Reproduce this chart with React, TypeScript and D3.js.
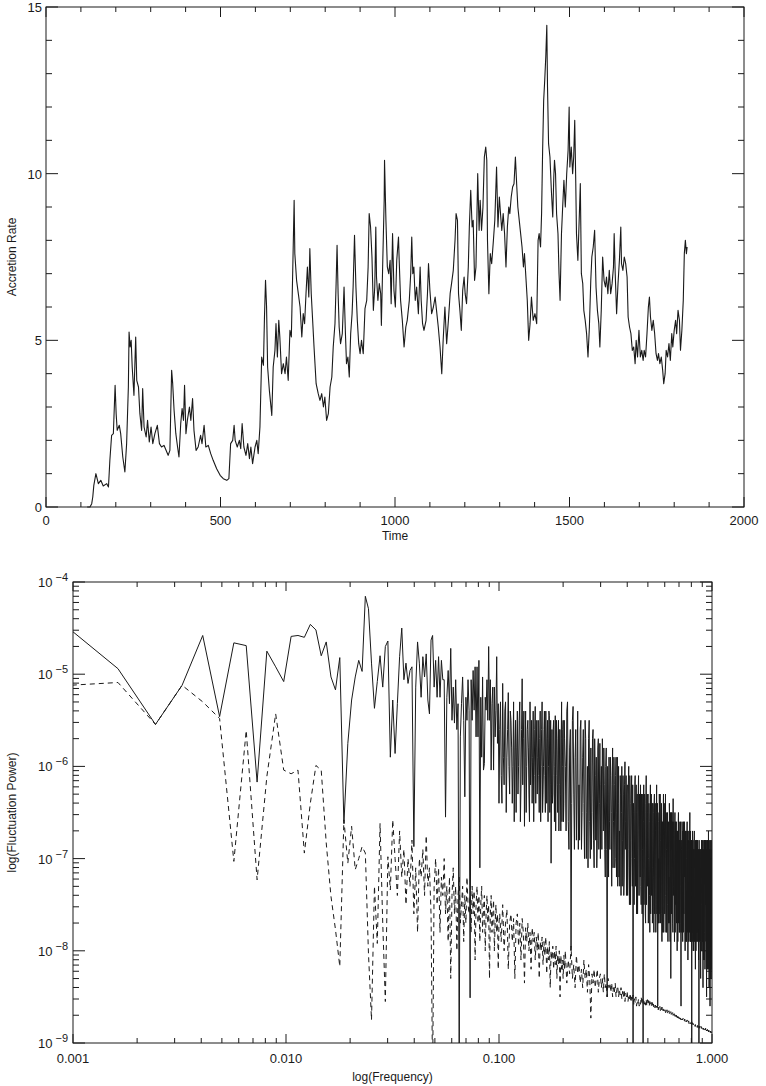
import * as d3 from 'd3';

// Top panel: accretion rate against time
const time = [
  118, 126, 131, 134, 137, 143, 150, 157, 164, 174, 179, 183, 188, 193, 198, 201, 204, 210, 214, 220,
  226, 231, 236, 238, 241, 244, 247, 252, 257, 260, 265, 269, 274, 277, 281, 287, 291, 296, 301, 306,
  312, 319, 325, 331, 338, 344, 350, 355, 360, 363, 367, 372, 377, 381, 386, 390, 394, 397, 401, 405,
  411, 415, 420, 424, 430, 436, 443, 447, 453, 458, 465, 472, 479, 489, 499, 508, 518, 524, 529, 535,
  539, 542, 548, 554, 558, 562, 567, 573, 578, 583, 587, 592, 599, 604, 608, 613, 618, 623, 626, 629,
  632, 635, 640, 647, 651, 656, 659, 663, 667, 670, 675, 680, 685, 689, 694, 699, 703, 707, 711, 713,
  718, 723, 728, 733, 737, 741, 745, 749, 753, 756, 760, 764, 768, 774, 780, 785, 790, 795, 799, 804,
  809, 814, 819, 823, 828, 831, 834, 837, 840, 844, 849, 854, 858, 861, 865, 869, 873, 877, 880, 884,
  888, 892, 896, 900, 904, 909, 914, 919, 923, 926, 930, 934, 938, 942, 945, 947, 951, 955, 959, 961,
  965, 969, 970, 974, 978, 982, 986, 989, 993, 997, 1001, 1005, 1010, 1012, 1016, 1021, 1026, 1031, 1035, 1041,
  1045, 1048, 1051, 1054, 1058, 1062, 1067, 1072, 1075, 1079, 1083, 1089, 1093, 1096, 1100, 1105, 1110, 1115, 1119, 1124,
  1129, 1134, 1138, 1143, 1148, 1153, 1158, 1162, 1167, 1172, 1175, 1179, 1182, 1186, 1190, 1194, 1198, 1201, 1205, 1210,
  1213, 1217, 1221, 1224, 1228, 1232, 1237, 1241, 1244, 1248, 1252, 1256, 1260, 1263, 1265, 1269, 1273, 1277, 1282, 1286,
  1291, 1295, 1299, 1303, 1306, 1310, 1314, 1318, 1322, 1326, 1329, 1333, 1337, 1341, 1345, 1349, 1352, 1356, 1360, 1364,
  1368, 1371, 1375, 1379, 1383, 1387, 1391, 1396, 1401, 1406, 1410, 1413, 1417, 1420, 1423, 1426, 1429, 1432, 1435, 1437,
  1440, 1444, 1448, 1452, 1455, 1457, 1460, 1463, 1467, 1470, 1473, 1477, 1480, 1484, 1488, 1492, 1496, 1499, 1501, 1505,
  1509, 1512, 1515, 1518, 1520, 1524, 1528, 1531, 1534, 1538, 1541, 1545, 1549, 1553, 1557, 1561, 1564, 1568, 1572, 1576,
  1580, 1584, 1587, 1591, 1595, 1599, 1603, 1606, 1610, 1614, 1618, 1622, 1626, 1628, 1631, 1635, 1639, 1643, 1647, 1649,
  1653, 1657, 1661, 1665, 1668, 1672, 1676, 1680, 1684, 1688, 1691, 1695, 1699, 1703, 1707, 1711, 1714, 1718, 1722, 1726,
  1729, 1732, 1736, 1740, 1744, 1748, 1752, 1755, 1759, 1763, 1767, 1770, 1774, 1777, 1781, 1785, 1789, 1793, 1796, 1800,
  1804, 1807, 1811, 1815, 1818, 1822, 1826, 1829, 1832, 1835, 1837,
];
const rate = [
  0, 0, 0.1, 0.3, 0.65, 1.0, 0.7, 0.8, 0.63, 0.7, 0.6, 1.4, 2.15, 2.2, 3.65, 2.8, 2.3, 2.45, 2.2, 1.5,
  1.05, 1.9, 3.6, 5.25, 4.8, 5.0, 4.2, 3.35, 5.1, 3.8, 3.6, 2.8, 2.3, 3.55, 2.4, 2.1, 2.6, 1.95, 2.4, 1.9,
  2.2, 2.45, 1.9, 1.8, 1.85, 1.7, 1.55, 1.7, 4.1, 3.7, 2.9, 2.2, 1.8, 1.5, 2.5, 2.95, 2.6, 3.65, 2.2, 2.6,
  3.0, 2.6, 3.25, 2.3, 1.7, 1.8, 2.15, 1.9, 2.45, 1.8, 1.85, 1.6, 1.4, 1.15, 0.95, 0.85, 0.8, 0.85, 1.9, 2.0,
  2.45, 2.0, 1.8, 2.0, 1.75, 2.5, 1.8, 1.55, 1.9, 1.45, 1.8, 1.3, 1.8, 2.0, 1.6, 2.4, 4.5, 4.25, 5.7, 6.8,
  6.0, 4.2, 3.5, 2.75, 4.2, 4.7, 5.5, 4.5, 5.6, 5.1, 4.0, 4.3, 4.0, 4.5, 3.8, 5.3, 5.1, 7.1, 9.2, 7.6,
  6.8, 6.4, 6.0, 5.1, 5.8, 5.5, 6.4, 7.2, 6.3, 7.75, 6.4, 5.6, 4.8, 3.7, 3.4, 3.2, 3.4, 3.0, 3.3, 2.6,
  2.8, 3.6, 3.9, 4.8, 5.5, 6.6, 7.85, 6.4, 5.4, 4.9, 5.2, 6.6, 5.2, 4.3, 4.5, 3.9, 5.2, 5.8, 6.6, 8.15,
  6.6, 5.6, 4.9, 4.6, 5.0, 4.6, 5.95, 6.2, 7.2, 8.8, 8.4, 7.5, 5.9, 6.6, 8.4, 6.9, 6.2, 6.7, 6.4, 5.45,
  7.4, 9.2, 10.4, 8.6, 7.2, 7.0, 7.4, 6.1, 8.2, 6.5, 6.0, 7.4, 8.1, 7.4, 6.2, 5.6, 4.8, 5.4, 5.6, 6.2,
  7.0, 8.1, 7.0, 7.2, 6.2, 6.6, 5.8, 7.2, 6.2, 5.5, 5.3, 5.6, 6.4, 7.3, 6.5, 5.8, 6.0, 6.3, 5.9, 5.4,
  4.8, 4.0, 5.0, 6.0, 4.9, 5.6, 6.4, 6.7, 7.1, 8.0, 8.8, 8.6, 6.4, 5.9, 5.3, 6.5, 6.9, 6.4, 6.1, 7.2,
  8.4, 9.5, 8.4, 8.6, 6.8, 7.2, 10.0, 8.3, 9.2, 8.3, 9.0, 10.5, 10.8, 10.4, 8.0, 6.4, 7.6, 7.3, 8.0, 8.6,
  10.2, 8.4, 9.3, 8.7, 8.3, 8.8, 8.2, 7.2, 8.4, 9.0, 8.8, 9.3, 9.6, 9.7, 10.5, 9.6, 9.0, 8.6, 8.2, 7.8,
  7.2, 7.6, 6.9, 6.2, 5.0, 5.5, 6.3, 5.6, 5.8, 5.5, 8.0, 8.2, 7.8, 8.8, 10.7, 12.2, 12.8, 13.5, 14.45, 12.6,
  10.9, 10.5, 9.5, 8.7, 9.9, 10.4, 10.0, 8.8, 8.2, 7.0, 6.2, 8.2, 8.9, 9.8, 9.0, 10.0, 10.7, 12.0, 10.2, 10.8,
  10.0, 10.5, 11.6, 9.7, 8.2, 7.4, 8.7, 9.7, 7.0, 6.7, 5.9, 5.6, 5.2, 4.5, 5.4, 6.8, 7.5, 7.8, 8.3, 6.6,
  5.9, 5.5, 4.8, 5.9, 7.5, 6.8, 6.6, 6.9, 6.4, 7.1, 6.4, 6.7, 7.2, 8.2, 7.0, 5.8, 6.7, 7.4, 8.4, 7.3,
  7.1, 7.5, 7.3, 6.9, 5.7, 5.4, 5.2, 4.7, 4.8, 4.3, 5.0, 4.5, 5.3, 4.5, 4.7, 4.4, 4.7, 4.5, 5.2, 6.0,
  6.3, 5.7, 5.3, 5.6, 5.2, 4.6, 4.4, 4.6, 4.3, 4.5, 4.1, 3.7, 4.0, 4.7, 4.5, 4.9, 4.4, 5.2, 4.8, 5.3,
  5.6, 5.2, 5.9, 5.6, 4.7, 5.3, 6.2, 7.6, 8.0, 7.6, 7.8,
];
const timeMajor = [0, 500, 1000, 1500, 2000];
const rateMajor = [0, 5, 10, 15];

// Bottom panel: log10 of fluctuation power at frequencies k * df
const df = 0.000813;
// k = 1 .. 123, every bin
const solidLow = [
  -4.37, -4.94, -5.545, -5.12, -4.58, -5.46, -4.66, -4.69, -6.17, -4.75,
  -4.92, -5.08, -4.59, -4.58, -4.6, -4.46, -4.52, -4.8, -4.65, -5.03,
  -5.17, -4.82, -6.62, -5.75, -5.28, -5.03, -4.85, -4.97, -4.155, -4.29,
  -4.88, -5.37, -5.08, -4.8, -5.14, -4.7, -4.64, -5.9, -5.28, -5.86,
  -5.32, -4.81, -4.5, -5.06, -4.88, -5.1, -4.96, -4.92, -6.87, -5.14,
  -4.65, -4.88, -5.25, -4.81, -5.03, -4.78, -5.28, -5.43, -4.63, -4.58,
  -5.14, -4.85, -5.25, -4.81, -5.25, -4.85, -5.06, -5.06, -6.55, -5.25,
  -4.96, -5.32, -4.72, -5.5, -5.14, -5.53, -5.06, -5.6, -5.32, -9.3,
  -5.68, -5.32, -5.03, -5.5, -6.33, -5.25, -5.5, -5.06, -5.39, -8.51,
  -5.06, -5.5, -4.96, -5.39, -4.92, -5.68, -4.92, -5.68, -4.85, -7.1,
  -5.25, -5.9, -5.03, -6.04, -5.97, -5.25, -5.39, -5.06, -5.5, -4.7,
  -5.5, -5.06, -6.04, -5.32, -5.14, -6.04, -5.14, -5.68, -5.39, -4.81,
  -5.75, -5.32, -6.4,
];
const dashedLow = [
  -5.13, -5.09, -5.545, -5.12, -5.3, -5.48, -7.03, -5.61, -7.23, -6.11,
  -5.43, -6.04, -6.08, -6.04, -6.94, -6.4, -5.99, -6.04, -6.83, -7.41,
  -7.77, -8.17, -6.58, -7.05, -6.65, -7.12, -7.0, -6.87, -6.94, -8.03,
  -8.75, -7.3, -7.92, -6.62, -7.7, -8.55, -6.98, -7.34, -6.58, -7.0,
  -7.4, -6.7, -7.2, -6.9, -7.5, -7.0, -7.3, -6.8, -7.6, -7.1,
  -7.8, -7.0, -7.2, -6.9, -7.4, -6.75, -7.3, -7.1, -7.6, -9.4,
  -7.3, -7.0, -7.5, -7.1, -7.8, -7.2, -7.4, -7.0, -7.6, -7.3,
  -7.9, -7.2, -8.3, -7.4, -7.1, -7.6, -7.3, -8.0, -7.4, -7.2,
  -7.7, -7.5, -7.3, -7.9, -7.4, -7.7, -7.2, -7.5, -7.6, -7.4,
  -7.8, -7.3, -7.6, -7.35, -8.1, -7.5, -7.3, -7.7, -7.4, -7.9,
  -7.5, -7.3, -7.8, -7.55, -7.4, -8.0, -7.6, -7.4, -7.7, -7.5,
  -8.3, -7.6, -7.4, -7.8, -7.6, -7.45, -8.0, -7.7, -7.5, -7.8,
  -7.6, -8.2, -7.7,
];
// k = 124 .. 250, every 2nd bin
const midStart = 124;
const midStep = 2;
const solidMid = [
  -5.6, -6.1, -5.1, -6.2, -5.3, -5.9, -5.2, -6.3, -5.5, -6.4,
  -5.3, -5.8, -6.5, -5.4, -6.0, -5.3, -6.2, -5.05, -5.7, -6.65,
  -5.4, -6.0, -5.5, -6.3, -5.3, -5.9, -6.4, -5.4, -6.1, -5.35,
  -5.8, -6.3, -5.5, -6.5, -5.4, -6.0, -5.3, -6.3, -5.6, -6.1,
  -5.4, -6.4, -5.5, -6.0, -5.45, -6.2, -7.05, -5.6, -6.3, -5.5,
  -6.6, -5.45, -6.1, -5.7, -6.5, -5.5, -6.2, -5.6, -6.7, -5.3,
  -6.0, -5.5, -6.4, -5.7,
];
// the bins in between: k = 125 .. 249
const solidMidOdd = [
  -5.3, -6.4, -5.9, -5.4, -6.5, -5.6, -6.0, -5.4, -5.8, -6.0,
  -6.6, -5.5, -5.8, -6.3, -5.5, -6.6, -5.6, -6.2, -5.4, -5.9,
  -6.5, -5.6, -5.8, -6.6, -6.2, -5.5, -5.9, -6.6, -5.6, -6.4,
  -5.5, -5.9, -6.1, -5.7, -6.6, -5.6, -6.5, -6.0, -5.4, -6.5,
  -5.8, -5.7, -6.6, -5.4, -6.5, -5.5, -6.3, -6.4, -5.6, -6.1,
  -6.0, -6.7, -5.5, -6.2, -5.8, -6.7, -5.6, -6.3, -5.7, -6.6,
  -5.6, -6.6, -5.5,
];
const dashedMid = [
  -7.6, -7.9, -7.5, -8.0, -7.7, -7.55, -8.2, -7.7, -7.6, -7.9,
  -7.65, -8.3, -7.7, -7.6, -7.95, -7.7, -8.1, -7.65, -7.8, -8.35,
  -7.75, -7.9, -7.7, -8.0, -7.8, -8.2, -7.75, -7.9, -7.8, -8.1,
  -7.85, -8.0, -7.8, -8.3, -7.9, -8.0, -7.85, -8.15, -7.9, -8.05,
  -7.85, -8.25, -7.95, -8.1, -7.9, -8.4, -8.0, -8.1, -7.95, -8.2,
  -8.0, -8.15, -7.95, -8.3, -8.05, -8.15, -8.0, -8.5, -8.05, -8.2,
  -8.1, -8.3, -8.05, -8.2,
];
// k = 252 .. 1228, every 4th bin
const highStart = 252;
const highStep = 4;
const solidHigh = [
  -6.0, -5.4, -6.6, -5.8, -8.0, -5.5, -6.3, -5.9, -6.8, -5.4,
  -6.2, -5.6, -6.9, -5.9, -6.4, -5.5, -7.0, -6.0, -5.7, -6.6,
  -5.8, -6.5, -5.6, -7.1, -6.1, -5.9, -6.8, -5.7, -6.4, -7.0,
  -6.0, -5.7, -6.7, -6.2, -7.2, -5.8, -8.5, -6.3, -5.9, -6.9,
  -6.1, -7.3, -5.8, -6.6, -6.2, -7.0, -5.9, -6.5, -7.3, -6.0,
  -6.7, -6.1, -7.4, -6.0, -6.8, -6.3, -7.2, -5.95, -6.6, -7.4,
  -6.2, -6.9, -6.0, -7.5, -6.4, -6.8, -6.1, -7.3, -9.4, -6.5,
  -7.0, -6.1, -6.7, -7.6, -6.3, -6.9, -6.1, -7.4, -6.6, -6.2,
  -7.5, -6.4, -6.9, -9.4, -6.2, -7.2, -6.5, -7.7, -6.1, -6.8,
  -7.3, -6.3, -7.0, -6.6, -7.8, -6.2, -6.9, -7.4, -6.4, -7.1,
  -6.5, -7.8, -6.3, -7.0, -6.7, -7.5, -6.2, -7.2, -8.6, -6.6,
  -7.0, -6.3, -7.6, -6.8, -7.2, -6.4, -7.9, -6.6, -7.1, -6.3,
  -7.5, -6.7, -7.0, -6.3, -7.8, -6.9, -7.3, -6.5, -7.9, -6.6,
  -7.2, -6.4, -7.6, -6.8, -8.3, -6.5, -7.1, -6.9, -7.7, -6.35,
  -7.3, -6.8, -7.9, -6.5, -7.0, -7.5, -6.6, -7.2, -8.0, -6.7,
  -7.4, -6.5, -7.1, -7.8, -6.8, -7.3, -6.6, -8.6, -6.9, -7.5,
  -6.7, -7.9, -7.0, -6.6, -7.6, -7.2, -6.9, -8.0, -6.7, -7.4,
  -7.0, -7.7, -6.6, -7.3, -8.1, -6.8, -7.5, -6.9, -7.8, -6.5,
  -7.2, -7.9, -6.8, -7.4, -9.4, -7.0, -6.7, -7.6, -8.0, -6.9,
  -7.3, -6.7, -7.8, -7.1, -8.2, -6.9, -7.5, -6.8, -7.9, -7.2,
  -6.8, -7.6, -7.0, -8.1, -9.4, -7.3, -6.9, -7.7, -7.1, -8.3,
  -6.9, -7.5, -7.2, -8.0, -6.8, -7.6, -8.4, -7.0, -7.4, -6.9,
  -7.8, -7.1, -8.2, -6.8, -7.5, -7.9, -7.0, -8.5, -7.3, -6.9,
  -7.6, -8.1, -7.2, -6.7, -7.9, -8.4, -7.1, -7.5, -8.6, -7.0,
  -7.4, -8.2, -6.8, -7.7, -8.3,
];
// the bins half way between: k = 254 .. 1230
const solidHighOdd = [
  -6.7, -5.3, -6.9, -5.6, -6.4, -5.35, -6.9, -5.6, -6.2, -6.9,
  -6.8, -5.5, -6.5, -5.6, -7.0, -5.7, -6.5, -7.1, -5.5, -7.0,
  -6.9, -5.7, -6.8, -5.7, -6.8, -7.1, -5.8, -6.9, -5.75, -6.2,
  -6.9, -6.0, -5.8, -6.9, -6.0, -6.9, -6.0, -7.2, -6.6, -5.9,
  -6.5, -6.2, -7.1, -5.9, -7.1, -6.1, -7.2, -5.9, -6.4, -7.2,
  -7.3, -6.3, -6.5, -7.3, -6.1, -7.4, -6.2, -6.9, -6.1, -6.3,
  -7.4, -6.2, -7.1, -6.1, -7.5, -6.3, -7.0, -6.2, -6.4, -7.5,
  -6.2, -7.3, -6.2, -6.5, -7.6, -6.3, -7.4, -6.3, -7.2, -7.3,
  -6.3, -7.6, -6.3, -6.6, -7.5, -6.3, -7.6, -6.4, -7.5, -6.3,
  -6.5, -7.7, -6.4, -7.4, -6.5, -7.6, -6.3, -6.6, -7.7, -6.4,
  -7.2, -6.4, -7.6, -6.4, -7.8, -6.5, -7.6, -6.4, -6.5, -7.7,
  -7.7, -6.5, -6.3, -7.7, -6.5, -7.6, -6.6, -7.8, -6.5, -7.8,
  -6.4, -7.6, -6.6, -7.4, -6.5, -7.8, -6.6, -7.5, -6.7, -7.7,
  -7.7, -6.6, -7.9, -6.5, -7.0, -7.6, -6.5, -6.6, -7.8, -7.4,
  -6.6, -7.6, -6.7, -7.8, -6.6, -6.8, -7.7, -6.7, -6.8, -7.9,
  -6.6, -7.7, -6.6, -6.8, -7.8, -6.7, -7.7, -6.8, -7.8, -6.6,
  -7.6, -6.7, -7.8, -7.4, -6.7, -6.6, -7.8, -6.8, -7.9, -6.7,
  -7.9, -6.8, -7.8, -6.7, -6.9, -7.9, -6.7, -7.8, -6.8, -7.9,
  -6.7, -6.9, -7.9, -6.8, -7.1, -7.9, -7.8, -6.8, -6.9, -8.0,
  -6.8, -7.9, -6.9, -7.0, -6.8, -8.0, -6.8, -7.9, -6.8, -7.8,
  -7.9, -6.9, -7.9, -6.9, -6.8, -7.9, -7.8, -6.9, -7.9, -6.9,
  -8.0, -6.8, -6.9, -7.3, -7.9, -6.9, -6.9, -8.1, -6.8, -8.1,
  -6.8, -7.0, -7.9, -7.2, -6.8, -6.9, -8.0, -6.8, -8.1, -8.2,
  -6.8, -6.8, -8.2, -7.9, -6.9, -6.8, -8.2, -6.9, -7.0, -8.3,
  -6.8, -7.0, -8.2, -6.9, -7.5,
];
const dashedHigh = [
  -8.0, -8.35, -8.1, -8.25, -7.95, -8.3, -8.15, -8.4, -8.05, -8.25,
  -8.15, -8.35, -8.2, -8.4, -8.1, -8.3, -8.2, -8.45, -8.15, -8.3,
  -8.73, -8.25, -8.35, -8.2, -8.4, -8.3, -8.2, -8.45, -8.3, -8.25,
  -8.4, -8.3, -8.45, -8.25, -8.4, -8.35, -8.5, -8.3, -8.4, -8.35,
  -8.45, -8.35, -8.5, -8.4, -8.45, -8.35, -8.5, -8.42, -8.38, -8.5,
  -8.42, -8.48, -8.4, -8.52, -8.44, -8.5, -8.42, -8.55, -8.46, -8.5,
  -8.45, -8.55, -8.48, -8.52, -8.46, -8.56, -8.5, -8.54, -8.48, -8.58,
  -8.52, -8.56, -8.5, -8.6, -8.54, -8.57, -8.52, -8.6, -8.56, -8.58,
  -8.5, -8.56, -8.52, -8.57, -8.53, -8.58, -8.54, -8.59, -8.53, -8.6,
  -8.53, -8.58, -8.54, -8.6, -8.55, -8.59, -8.56, -8.61, -8.56, -8.6,
  -8.57, -8.61, -8.58, -8.62, -8.59, -8.63, -8.6, -8.62, -8.59, -8.64,
  -8.61, -8.63, -8.6, -8.65, -8.62, -8.64, -8.61, -8.66, -8.63, -8.65,
  -8.63, -8.66, -8.64, -8.67, -8.65, -8.67, -8.64, -8.68, -8.66, -8.67,
  -8.65, -8.68, -8.67, -8.69, -8.66, -8.69, -8.68, -8.7, -8.67, -8.7,
  -8.69, -8.71, -8.68, -8.71, -8.7, -8.72, -8.69, -8.72, -8.71, -8.73,
  -8.7, -8.73, -8.72, -8.74, -8.71, -8.74, -8.73, -8.75, -8.72, -8.75,
  -8.74, -8.75, -8.73, -8.76, -8.75, -8.76, -8.74, -8.77, -8.75, -8.77,
  -8.76, -8.77, -8.75, -8.78, -8.77, -8.78, -8.76, -8.79, -8.77, -8.78,
  -8.77, -8.79, -8.78, -8.79, -8.77, -8.8, -8.78, -8.8, -8.79, -8.8,
  -8.79, -8.81, -8.8, -8.82, -8.8, -8.82, -8.81, -8.82, -8.81, -8.83,
  -8.81, -8.83, -8.82, -8.83, -8.81, -8.84, -8.82, -8.84, -8.83, -8.84,
  -8.82, -8.84, -8.83, -8.85, -8.83, -8.85, -8.84, -8.85, -8.84, -8.86,
  -8.84, -8.86, -8.85, -8.86, -8.84, -8.87, -8.85, -8.87, -8.86, -8.87,
  -8.85, -8.87, -8.86, -8.88, -8.86, -8.88, -8.87, -8.88, -8.87, -8.89,
  -8.87, -8.88, -8.88, -8.89, -8.89,
];
const freqMajor = [0.001, 0.01, 0.1, 1];
const freqLabels = ['0.001', '0.010', '0.100', '1.000'];
const powerExp = [-9, -8, -7, -6, -5, -4];

// [bin index, log10 power] pairs from a list that starts at bin `start` and steps by `step`
const bins = (vals: number[], start: number, step: number) =>
  vals.map((v, i) => [start + step * i, v] as [number, number]);

function spectrum(...parts: [number, number][][]) {
  return parts
    .flat()
    .sort((a, b) => a[0] - b[0])
    .map(([k, v]) => [k * df, Math.pow(10, v)] as [number, number]);
}

const W = 766;
const H = 1086;
const P1 = { left: 46, right: 744, top: 7, bottom: 507 };
const P2 = { left: 73, right: 712, top: 582, bottom: 1043 };
const ink = '#1a1a1a';
const font = 'Liberation Sans, Arial, sans-serif';

export default function App() {
  const x1 = d3.scaleLinear().domain([0, 2000]).range([P1.left, P1.right]);
  const y1 = d3.scaleLinear().domain([0, 15]).range([P1.bottom, P1.top]);
  const x2 = d3.scaleLog().domain([0.001, 1]).range([P2.left, P2.right]);
  const y2 = d3.scaleLog().domain([1e-9, 1e-4]).range([P2.bottom, P2.top]);

  const rateLine = d3.line<number>().x((_, i) => x1(time[i])).y(d => y1(d));
  const specLine = d3.line<[number, number]>().x(d => x2(d[0])).y(d => y2(d[1]));
  const solid = spectrum(
    bins(solidLow, 1, 1),
    bins(solidMid, midStart, midStep),
    bins(solidMidOdd, midStart + 1, midStep),
    bins(solidHigh, highStart, highStep),
    bins(solidHighOdd, highStart + 2, highStep),
  );
  const dashed = spectrum(
    bins(dashedLow, 1, 1),
    bins(dashedMid, midStart, midStep),
    bins(dashedHigh, highStart, highStep),
  );

  // minor ticks
  const timeMinor = d3.range(100, 2000, 100).filter(v => v % 500 !== 0);
  const rateMinor = d3.range(1, 15).filter(v => v % 5 !== 0);
  const freqMinor: number[] = [];
  [-3, -2, -1].forEach(e => d3.range(2, 10).forEach(m => freqMinor.push(m * Math.pow(10, e))));
  const powMinor: number[] = [];
  [-9, -8, -7, -6, -5].forEach(e => d3.range(2, 10).forEach(m => powMinor.push(m * Math.pow(10, e))));

  const tick = (key: string, xa: number, ya: number, xb: number, yb: number) => (
    <line key={key} x1={xa} y1={ya} x2={xb} y2={yb} stroke={ink} strokeWidth={1} />
  );

  return (
    <svg width={W} height={H} style={{ position: 'absolute', left: 0, top: 0, background: '#fff' }} fontFamily={font}>
      <defs>
        <clipPath id="clip2">
          <rect x={P2.left} y={P2.top} width={P2.right - P2.left} height={P2.bottom - P2.top} />
        </clipPath>
      </defs>

      {/* ---------- top panel ---------- */}
      <rect x={P1.left} y={P1.top} width={P1.right - P1.left} height={P1.bottom - P1.top} fill="none" stroke={ink} strokeWidth={1} />
      {timeMajor.map(v => tick('tb' + v, x1(v), P1.bottom, x1(v), P1.bottom - 10))}
      {timeMajor.map(v => tick('tt' + v, x1(v), P1.top, x1(v), P1.top + 10))}
      {timeMinor.map(v => tick('tbm' + v, x1(v), P1.bottom, x1(v), P1.bottom - 5))}
      {timeMinor.map(v => tick('ttm' + v, x1(v), P1.top, x1(v), P1.top + 5))}
      {rateMajor.map(v => tick('rl' + v, P1.left, y1(v), P1.left + 12, y1(v)))}
      {rateMajor.map(v => tick('rr' + v, P1.right, y1(v), P1.right - 12, y1(v)))}
      {rateMinor.map(v => tick('rlm' + v, P1.left, y1(v), P1.left + 6, y1(v)))}
      {rateMinor.map(v => tick('rrm' + v, P1.right, y1(v), P1.right - 6, y1(v)))}
      {timeMajor.map(v => (
        <text key={'tl' + v} x={x1(v)} y={P1.bottom + 18} textAnchor="middle" fontSize={13} fill={ink}>{v}</text>
      ))}
      {rateMajor.map(v => (
        <text key={'rlab' + v} x={P1.left - 4} y={y1(v) + 5} textAnchor="end" fontSize={13} fill={ink}>{v}</text>
      ))}
      <text x={(P1.left + P1.right) / 2} y={P1.bottom + 33} textAnchor="middle" fontSize={12} fill={ink}>Time</text>
      <text transform={`translate(16,${(P1.top + P1.bottom) / 2}) rotate(-90)`} textAnchor="middle" fontSize={12} fill={ink}>Accretion Rate</text>
      <path d={rateLine(rate) ?? ''} fill="none" stroke={ink} strokeWidth={1.1} strokeLinejoin="round" />

      {/* ---------- bottom panel ---------- */}
      <rect x={P2.left} y={P2.top} width={P2.right - P2.left} height={P2.bottom - P2.top} fill="none" stroke={ink} strokeWidth={1} />
      {freqMajor.map(v => tick('fb' + v, x2(v), P2.bottom, x2(v), P2.bottom - 9))}
      {freqMajor.map(v => tick('ft' + v, x2(v), P2.top, x2(v), P2.top + 9))}
      {freqMinor.map(v => tick('fbm' + v, x2(v), P2.bottom, x2(v), P2.bottom - 5))}
      {freqMinor.map(v => tick('ftm' + v, x2(v), P2.top, x2(v), P2.top + 5))}
      {powerExp.map(e => tick('pl' + e, P2.left, y2(Math.pow(10, e)), P2.left + 12, y2(Math.pow(10, e))))}
      {powerExp.map(e => tick('pr' + e, P2.right, y2(Math.pow(10, e)), P2.right - 12, y2(Math.pow(10, e))))}
      {powMinor.map(v => tick('plm' + v, P2.left, y2(v), P2.left + 6, y2(v)))}
      {powMinor.map(v => tick('prm' + v, P2.right, y2(v), P2.right - 6, y2(v)))}
      {freqMajor.map((v, i) => (
        <text key={'fl' + v} x={x2(v)} y={P2.bottom + 20} textAnchor="middle" fontSize={13} fill={ink}>{freqLabels[i]}</text>
      ))}
      {powerExp.map(e => (
        <text key={'plab' + e} x={P2.left - 5} y={y2(Math.pow(10, e)) + 5} textAnchor="end" fontSize={13} fill={ink}>
          10<tspan dx={3} dy={-6} fontSize={11}>{'\u2212' + Math.abs(e)}</tspan>
        </text>
      ))}
      <text x={(P2.left + P2.right) / 2} y={P2.bottom + 38} textAnchor="middle" fontSize={12} fill={ink}>log(Frequency)</text>
      <text transform={`translate(16,${(P2.top + P2.bottom) / 2}) rotate(-90)`} textAnchor="middle" fontSize={12} fill={ink}>log(Fluctuation Power)</text>
      <g clipPath="url(#clip2)">
        <path d={specLine(dashed) ?? ''} fill="none" stroke={ink} strokeWidth={1} strokeDasharray="5,4" />
        <path d={specLine(solid) ?? ''} fill="none" stroke={ink} strokeWidth={1} />
      </g>
    </svg>
  );
}
